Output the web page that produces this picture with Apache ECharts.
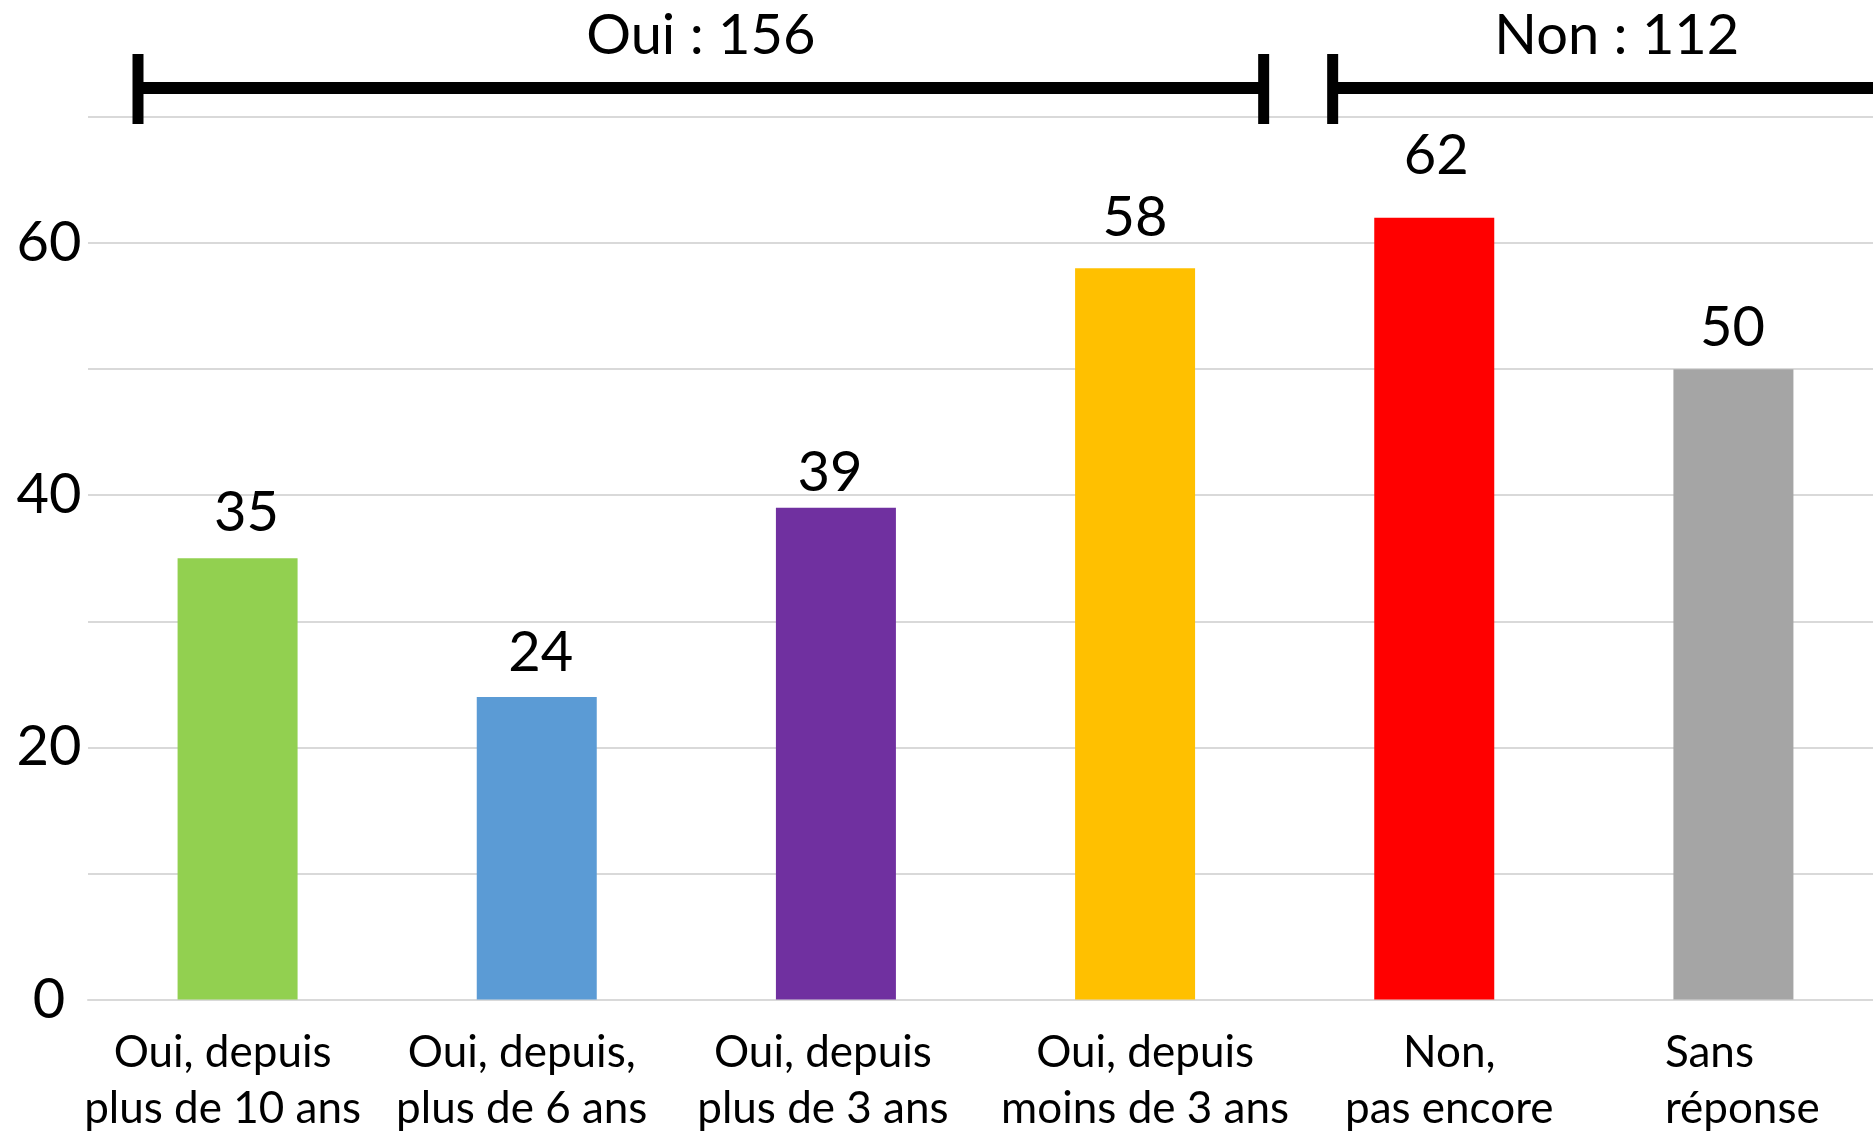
<!DOCTYPE html>
<html>
<head>
<meta charset="utf-8">
<script src="https://cdn.jsdelivr.net/npm/echarts@6/dist/echarts.min.js"></script>
<style>
  html, body { margin: 0; padding: 0; background: #fff; }
  #chart { width: 1873px; height: 1133px; }
</style>
</head>
<body>
<div id="chart"></div>
<script>
// catégories (axe x)
const categories = [
  "Oui, depuis\nplus de 10 ans",
  "Oui, depuis,\nplus de 6 ans",
  "Oui, depuis\nplus de 3 ans",
  "Oui, depuis\nmoins de 3 ans",
  "Non,\npas encore",
  "Sans\nréponse",
]
const values = [35, 24, 39, 58, 62, 50]
const barColors = ["#92D050", "#5B9BD5", "#7030A0", "#FFC000", "#FF0000", "#A5A5A5"]
const yTicks = [0, 20, 40, 60]
// regroupements affichés en haut
const groupNames = ["Oui", "Non"]
const groupFirst = [0, 4]
const groupLast = [3, 5]

// décalages visuels (px) des libellés et crochets
const labelShift = [-15, -15, -13, 10, 15, 14]
const valueLabelOffset = [[9, 1], [4, 2], [-6, 11], [0, -4], [2, -16], [-1, 5]]
const bracketInset = [[50, -21], [48, 18]]

const FONT = "Lato"

const groupData = groupNames.map((n, i) => {
  let total = 0
  for (let k = groupFirst[i]; k <= groupLast[i]; k++) total += values[k]
  return [groupFirst[i], groupLast[i], total]
})

const option = {
  animation: false,
  grid: { left: 88, top: 117, width: 1795, bottom: 133.5, containLabel: false, outerBoundsMode: "none" },
  xAxis: {
    type: "category",
    data: categories.map((c, i) => ({
      value: c,
      textStyle: {
        padding: labelShift[i] < 0 ? [0, -2 * labelShift[i], 0, 0] : [0, 0, 0, 2 * labelShift[i]],
      },
    })),
    axisTick: { show: false },
    axisLine: { lineStyle: { color: "#D9D9D9", width: 2 } },
    axisLabel: {
      interval: 0,
      margin: 25,
      color: "#000",
      fontFamily: FONT,
      fontSize: 44,
      lineHeight: 56,
      formatter: (v, i) => (i === 5 ? v.split("\n").map((s) => "{w|" + s + "}").join("\n") : v),
      rich: {
        w: { width: 165, align: "left", fontFamily: FONT, fontSize: 44, lineHeight: 56, color: "#000" },
      },
    },
  },
  yAxis: {
    type: "value",
    min: 0,
    max: 70,
    interval: 10,
    axisLine: { show: false },
    axisTick: { show: false },
    splitLine: { lineStyle: { color: "#D9D9D9", width: 2 } },
    axisLabel: {
      margin: 39,
      align: "center",
      color: "#000",
      fontFamily: FONT,
      fontSize: 56,
      formatter: (v) => (yTicks.includes(v) ? String(v) : ""),
    },
  },
  series: [
    {
      type: "bar",
      barWidth: 120,
      data: values.map((v, i) => ({
        value: v,
        itemStyle: { color: barColors[i] },
        label: { offset: valueLabelOffset[i] },
      })),
      label: {
        show: true,
        position: "top",
        distance: 18,
        color: "#000",
        fontFamily: FONT,
        fontSize: 56,
      },
    },
    {
      type: "custom",
      clip: false,
      z: 5,
      data: groupData,
      encode: { x: [0, 1], y: 2 },
      renderItem: (params, api) => {
        const i = params.dataIndex
        const band = api.size([1, 0])[0]
        const x0 = api.coord([api.value(0), 0])[0] - band / 2 + bracketInset[i][0]
        const x1 = api.coord([api.value(1), 0])[0] + band / 2 + bracketInset[i][1]
        const yLine = api.coord([0, 72.3])[1]
        const yText = api.coord([0, 76.4])[1]
        const tick = { stroke: "#000", lineWidth: 11 }
        return {
          type: "group",
          children: [
            { type: "line", shape: { x1: x0, y1: yLine, x2: x1, y2: yLine }, style: { stroke: "#000", lineWidth: 12 } },
            { type: "line", shape: { x1: x0, y1: yLine - 34, x2: x0, y2: yLine + 36 }, style: tick },
            { type: "line", shape: { x1: x1, y1: yLine - 34, x2: x1, y2: yLine + 36 }, style: tick },
            {
              type: "text",
              x: (x0 + x1) / 2,
              y: yText,
              style: {
                text: groupNames[i] + " : " + api.value(2),
                fill: "#000",
                font: "56px " + FONT,
                align: "center",
                verticalAlign: "middle",
              },
            },
          ],
        }
      },
    },
  ],
}

const chart = echarts.init(document.getElementById("chart"))
chart.setOption(option)
window.addEventListener("resize", () => chart.resize())
</script>
</body>
</html>
